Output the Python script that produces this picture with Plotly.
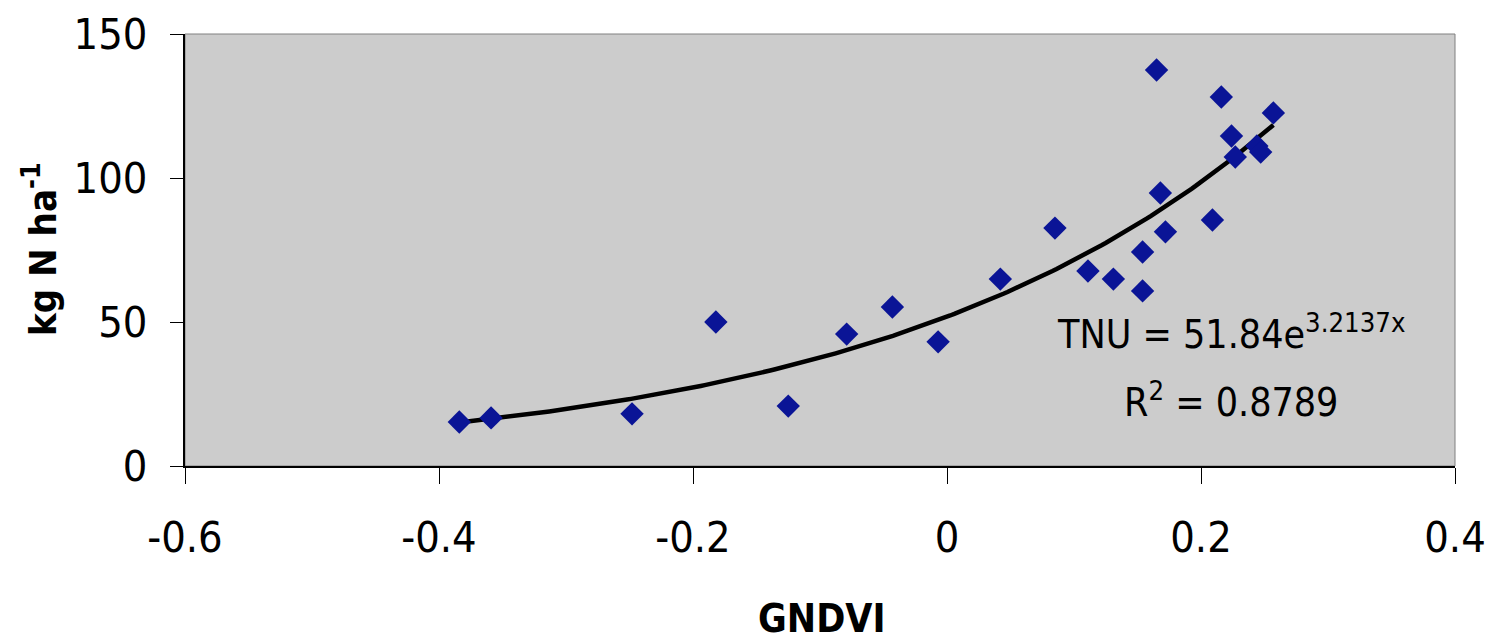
import numpy as np
import plotly.graph_objects as go

# Observed data (GNDVI vs total N uptake)
gndvi = [-0.384, -0.359, -0.248, -0.182, -0.125, -0.079, -0.043, -0.007,
         0.042, 0.085, 0.111, 0.131, 0.154, 0.154, 0.165, 0.168, 0.172,
         0.209, 0.216, 0.224, 0.227, 0.244, 0.247, 0.257]
tnu = [15.3, 16.7, 18.1, 50.0, 20.8, 45.8, 55.2, 43.1,
       64.9, 82.6, 67.7, 64.9, 74.3, 60.8, 137.5, 94.8, 81.3,
       85.4, 128.1, 114.6, 107.3, 111.1, 109.0, 122.6]

# Exponential trendline as reported on the chart
coef_a = 51.84
coef_b = 3.2137
r_squared = 0.8789
x_tick_vals = [-0.6, -0.4, -0.2, 0, 0.2, 0.4]
x_tick_text = ["-0.6", "-0.4", "-0.2", "0", "0.2", "0.4"]
y_tick_vals = [0, 50, 100, 150]
y_tick_text = ["0", "50", "100", "150"]

FONT = "DejaVu Sans Condensed, Liberation Sans Narrow, Arial Narrow, Liberation Sans, Arial, sans-serif"

trend_x = np.linspace(min(gndvi), max(gndvi), 200)
trend_y = coef_a * np.exp(coef_b * trend_x)

fig = go.Figure()
fig.add_trace(go.Scatter(x=trend_x, y=trend_y, mode="lines",
                         line=dict(color="black", width=4.5), hoverinfo="skip",
                         showlegend=False))
fig.add_trace(go.Scatter(x=gndvi, y=tnu, mode="markers",
                         marker=dict(symbol="diamond", size=18, color="#0A1496",
                                     line=dict(width=0)),
                         showlegend=False))

fig.add_annotation(x=0.2236, y=46.5, xref="x", yref="y",
                   text=f"TNU = {coef_a}e<sup>{coef_b}x</sup>", showarrow=False,
                   xanchor="center", yanchor="middle",
                   font=dict(family=FONT, size=39, color="black"))
fig.add_annotation(x=0.2236, y=23.0, xref="x", yref="y",
                   text=f"R<sup>2</sup> = {r_squared}", showarrow=False,
                   xanchor="center", yanchor="middle",
                   font=dict(family=FONT, size=39, color="black"))

# axis titles
fig.add_annotation(x=(40 - 185) / 1270, y=(466 - 249) / 432, xref="paper",
                   yref="paper", text="<b>kg N ha<sup>-1</sup></b>", textangle=-90,
                   xanchor="center", yanchor="middle",
                   showarrow=False, font=dict(family=FONT, size=38, color="black"))
fig.add_annotation(x=(822 - 185) / 1270, y=-(618 - 466) / 432, xref="paper",
                   yref="paper", text="<b>GNDVI</b>", showarrow=False,
                   xanchor="center", yanchor="middle",
                   font=dict(family=FONT, size=39, color="black"))

fig.add_shape(type="rect", xref="paper", yref="paper", x0=0, x1=1, y0=0, y1=1,
              line=dict(color="#808080", width=1), layer="below")

# page body has an 8px margin, so the figure is sized/offset to compensate
fig.update_layout(
    width=1485, height=636,
    margin=dict(l=177, r=38, t=26, b=178),
    paper_bgcolor="white", plot_bgcolor="#CCCCCC",
    font=dict(family=FONT, color="black"),
    xaxis=dict(range=[-0.6, 0.4], tickvals=x_tick_vals, ticktext=x_tick_text,
               showgrid=False, zeroline=False, showline=True, linecolor="black",
               linewidth=2, ticks="outside", ticklen=16, tickcolor="black",
               tickwidth=1, ticklabelstandoff=16, automargin=False,
               tickfont=dict(family=FONT, size=43)),
    yaxis=dict(range=[0, 150], tickvals=y_tick_vals, ticktext=y_tick_text,
               showgrid=False, zeroline=False, showline=True, linecolor="black",
               linewidth=2, ticks="outside", ticklen=13, tickcolor="black",
               tickwidth=1, ticklabelstandoff=14, automargin=False,
               tickfont=dict(family=FONT, size=43)),
)

fig.write_html("out.html")
